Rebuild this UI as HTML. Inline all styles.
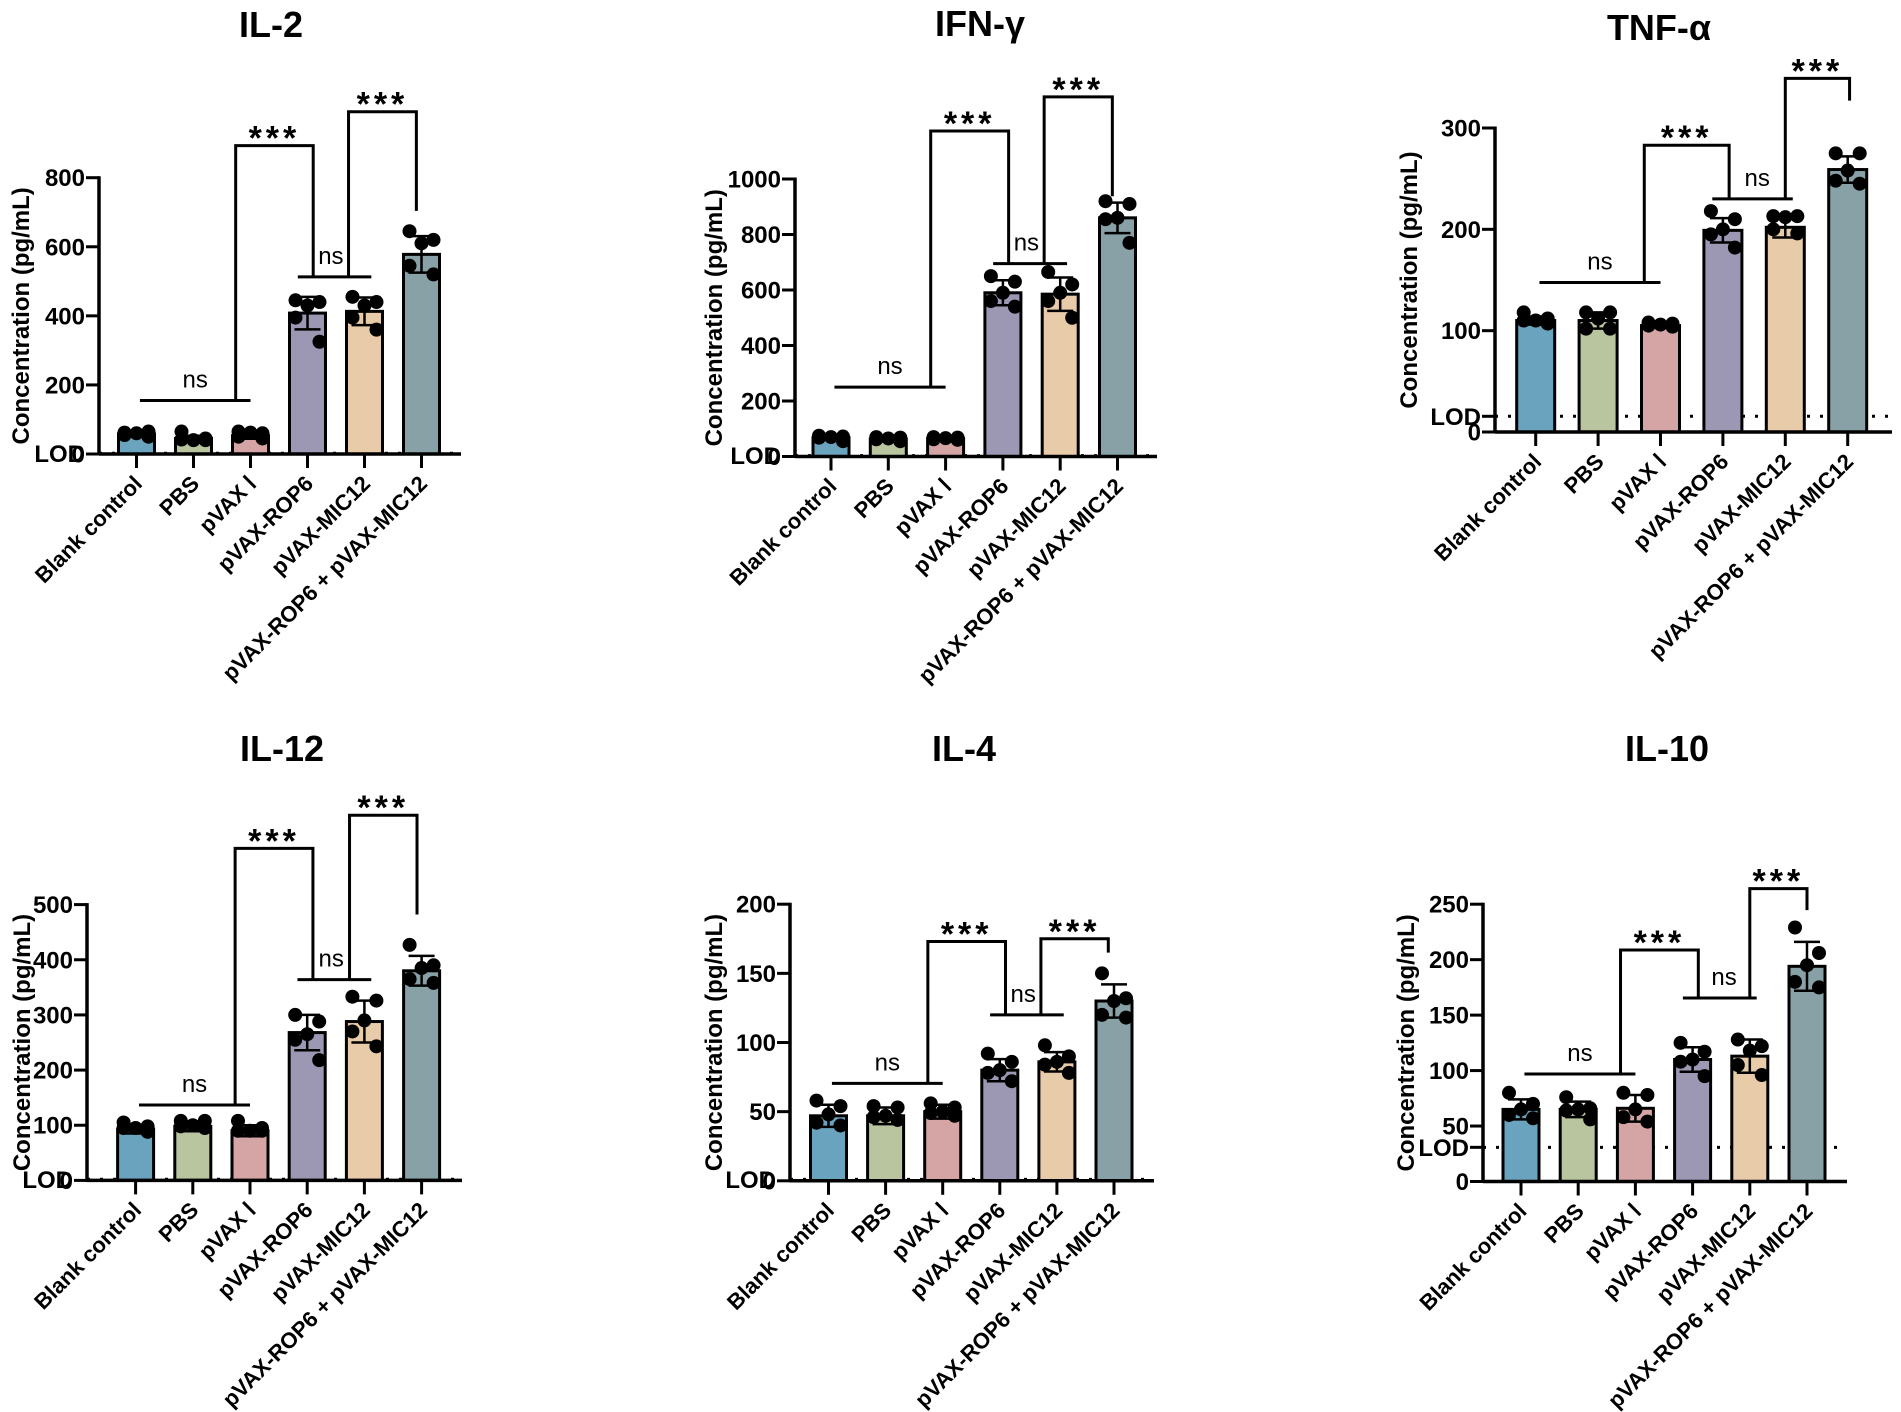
<!DOCTYPE html>
<html><head><meta charset="utf-8"><style>
html,body{margin:0;padding:0;background:#fff;}
svg{display:block;font-family:"Liberation Sans",Arial,sans-serif;}
</style></head><body>
<svg id="fig" width="1901" height="1412" viewBox="0 0 1901 1412" xmlns="http://www.w3.org/2000/svg">
<rect width="1901" height="1412" fill="#fff"/>
</svg>
<script>
const categories=["Blank control","PBS","pVAX Ⅰ","pVAX-ROP6","pVAX-MIC12","pVAX-ROP6 + pVAX-MIC12"];
const colors=["#6aa3bd","#b9c59f","#d5a5a6","#9c98b3","#e8cba9","#87a1a6"];

const il2_ticks=[0,200,400,600,800];
const il2_mean=[58,45,53,408,413,578];
const il2_sd=[6,8,9,47,40,53];
const il2_pts=[[62,65,60,55,50],[65,45,40,42,40],[65,60,62,50,45],[445,440,430,395,325],[455,440,430,395,360],[645,620,610,545,520]];
const il2_sig=[155,893,513,991,704];
const il2_lod=2;

const ifn_ticks=[0,200,400,600,800,1000];
const ifn_mean=[68,63,65,590,585,860];
const ifn_sd=[7,6,5,45,60,55];
const ifn_pts=[[75,72,70,68,55],[70,68,65,62,55],[70,68,66,62,60],[650,630,590,560,540],[665,620,590,560,500],[920,910,860,855,770]];
const ifn_sig=[250,1173,695,1296,938];
const ifn_lod=3;

const tnf_ticks=[0,100,200,300];
const tnf_mean=[110,110,105,199,202,259];
const tnf_sd=[4,8,2,12,10,13];
const tnf_pts=[[118,112,110,110,107],[118,118,112,102,102],[108,107,106,105,104],[218,210,200,195,182],[213,213,212,200,196],[275,275,258,248,245]];
const tnf_sig=[147.5,283,230,349,327];
const tnf_lod=15.5;

const il12_ticks=[0,100,200,300,400,500];
const il12_mean=[93,98,90,268,288,380];
const il12_sd=[8,9,10,32,38,27];
const il12_pts=[[105,98,95,95,88],[108,108,100,98,95],[108,95,90,90,90],[300,288,265,255,218],[333,326,290,270,243],[427,390,385,365,358]];
const il12_sig=[136.7,602,364,662,482];
const il12_lod=2;

const il4_ticks=[0,50,100,150,200];
const il4_mean=[47,47,50,80,86,130];
const il4_sd=[8,6,5,8,7,12];
const il4_pts=[[58,54,48,42,40],[54,53,47,46,44],[56,53,50,49,47],[92,86,80,78,72],[98,90,86,84,78],[150,132,130,120,118]];
const il4_sig=[70.4,173,120,175,165];
const il4_lod=1;

const il10_ticks=[0,50,100,150,200,250];
const il10_mean=[65,65,66,110,113,194];
const il10_sd=[9,7,12,11,15,22];
const il10_pts=[[80,70,65,60,57],[76,66,65,64,56],[80,78,65,58,54],[125,117,110,108,95],[128,122,118,105,96],[229,206,195,180,175]];
const il10_sig=[96.9,208.7,165.4,264,244.7];
const il10_lod=30.8;

const panels=[
 {id:"il2",title:"IL-2",ticks:il2_ticks,mean:il2_mean,sd:il2_sd,pts:il2_pts,sig:il2_sig,lod:il2_lod,
  L:{ax:99,y0:454,yTop:177.7,ymax:800,x0:136.5,step:57,bw:36,xEnd:461,tx:271,ty:24,ylx:20,B:[3.72,4.91]}},
 {id:"ifn",title:"IFN-γ",ticks:ifn_ticks,mean:ifn_mean,sd:ifn_sd,pts:ifn_pts,sig:ifn_sig,lod:ifn_lod,
  L:{ax:795,y0:456.5,yTop:179,ymax:1000,x0:831,step:57.3,bw:36,xEnd:1157,tx:980,ty:23,ylx:713,B:[3.72,4.91]}},
 {id:"tnf",title:"TNF-α",ticks:tnf_ticks,mean:tnf_mean,sd:tnf_sd,pts:tnf_pts,sig:tnf_sig,lod:tnf_lod,
  L:{ax:1495,y0:432,yTop:128,ymax:300,x0:1535.7,step:62.4,bw:38,xEnd:1892,tx:1659,ty:27,ylx:1408,B:[4.0,5.03]}},
 {id:"il12",title:"IL-12",ticks:il12_ticks,mean:il12_mean,sd:il12_sd,pts:il12_pts,sig:il12_sig,lod:il12_lod,
  L:{ax:87,y0:1180.4,yTop:904.6,ymax:500,x0:135.6,step:57.2,bw:36,xEnd:462,tx:282,ty:748,ylx:21,B:[3.74,4.92]}},
 {id:"il4",title:"IL-4",ticks:il4_ticks,mean:il4_mean,sd:il4_sd,pts:il4_pts,sig:il4_sig,lod:il4_lod,
  L:{ax:790,y0:1180.8,yTop:904.2,ymax:200,x0:828.5,step:57.1,bw:36,xEnd:1154,tx:964,ty:748,ylx:713,B:[3.72,4.9]}},
 {id:"il10",title:"IL-10",ticks:il10_ticks,mean:il10_mean,sd:il10_sd,pts:il10_pts,sig:il10_sig,lod:il10_lod,
  L:{ax:1483,y0:1181.5,yTop:904.2,ymax:250,x0:1521,step:57.2,bw:36,xEnd:1847,tx:1667,ty:748,ylx:1405,B:[4.0,5.0]}}
];
const DOT_JITTER=[-12,12,0,-12,12];
const NS="http://www.w3.org/2000/svg";
const svg=document.getElementById('fig');
function mk(tag,attrs,parent,text){const e=document.createElementNS(NS,tag);for(const k in attrs)e.setAttribute(k,attrs[k]);if(text!==undefined)e.textContent=text;parent.appendChild(e);return e;}

panels.forEach(p=>{
  const L=p.L;
  const ys=v=>L.y0-(v/L.ymax)*(L.y0-L.yTop);
  const xs=i=>L.x0+i*L.step;
  const g=mk('g',{},svg);
  
  
  const t=mk('text',{x:L.tx,y:L.ty+13,'text-anchor':'middle','font-size':36,'font-weight':'bold'},g,p.title);
  
  
  const yl=mk('text',{x:0,y:0,transform:`translate(${L.ylx+9},${(L.y0+L.yTop)/2}) rotate(-90)`,'text-anchor':'middle','font-size':24,'font-weight':'bold'},g,'Concentration (pg/mL)');
  
  
  const ly=ys(p.lod);
  const lodl=mk('line',{x1:L.ax,y1:ly,x2:L.xEnd,y2:ly,stroke:'#000','stroke-width':3,'stroke-dasharray':'3 10'},g);
  
  
  p.ticks.forEach(v=>{
    const y=ys(v);
    mk('line',{x1:L.ax-13,y1:y,x2:L.ax,y2:y,stroke:'#000','stroke-width':3},g);
    const tl=mk('text',{x:L.ax-14,y:y+8.5,'text-anchor':'end','font-size':24,'font-weight':'bold'},g,String(v));
    
    
  });
  if(p.lod>5) mk('line',{x1:L.ax-13,y1:ly,x2:L.ax,y2:ly,stroke:'#000','stroke-width':3},g);
  const lodt=mk('text',{x:L.ax-14,y:ly+8.5,'text-anchor':'end','font-size':24,'font-weight':'bold'},g,'LOD');
  
  
  p.mean.forEach((m,i)=>{
    const x=xs(i);
    const b=mk('rect',{x:x-L.bw/2,y:ys(m),width:L.bw,height:L.y0-ys(m),fill:colors[i],stroke:'#000','stroke-width':3},g);
    
    
    const hi=ys(m+p.sd[i]),lo=ys(m-p.sd[i]);
    const eb=mk('path',{d:`M${x},${hi}V${lo}M${x-13},${hi}H${x+13}M${x-13},${lo}H${x+13}`,stroke:'#000','stroke-width':2.5,fill:'none'},g);
    
    
    p.pts[i].forEach((v,j)=>{
      const c=mk('circle',{cx:x+DOT_JITTER[j],cy:ys(v),r:7,fill:'#000'},g);
      
      
    });
  });
  mk('line',{x1:L.ax,y1:L.yTop-1.5,x2:L.ax,y2:L.y0+1.5,stroke:'#000','stroke-width':3.5},g);
  mk('line',{x1:L.ax,y1:L.y0,x2:L.xEnd,y2:L.y0,stroke:'#000','stroke-width':3.5},g);
  categories.forEach((c,i)=>{
    const x=xs(i);
    mk('line',{x1:x,y1:L.y0,x2:x,y2:L.y0+14,stroke:'#000','stroke-width':3},g);
    const xl=mk('text',{x:0,y:0,transform:`translate(${x+7},${L.y0+31}) rotate(-45)`,'text-anchor':'end','font-size':22,'font-weight':'bold'},g,c);
    
    
  });
  const s=p.sig;
  const sw={stroke:'#000','stroke-width':3,fill:'none'};
  const ns1=[xs(0.06),xs(2.0)], A=[xs(1.74),xs(3.1)], ns2=[xs(2.83),xs(4.12)], B=[xs(L.B[0]),xs(L.B[1])];
  const bl=mk('path',Object.assign({d:
    `M${ns1[0]},${ys(s[0])}H${ns1[1]}`+
    `M${A[0]},${ys(s[0])}V${ys(s[1])}H${A[1]}V${ys(s[2])}`+
    `M${ns2[0]},${ys(s[2])}H${ns2[1]}`+
    `M${B[0]},${ys(s[2])}V${ys(s[3])}H${B[1]}V${ys(s[4])}`},sw),g);
  
  
  const t1=mk('text',{x:(ns1[0]+ns1[1])/2,y:ys(s[0])-13,'text-anchor':'middle','font-size':24},g,'ns');
  
  
  const t2=mk('text',{x:(A[1]+B[0])/2,y:ys(s[2])-13,'text-anchor':'middle','font-size':24},g,'ns');
  
  
  const t3=mk('text',{x:(A[0]+A[1])/2,y:ys(s[1])+4,'text-anchor':'middle','font-size':34,'font-weight':'bold','letter-spacing':4},g,'***');
  
  
  const t4=mk('text',{x:(B[0]+B[1])/2,y:ys(s[3])+4,'text-anchor':'middle','font-size':34,'font-weight':'bold','letter-spacing':4},g,'***');
  
  
});
</script>
</body></html>
